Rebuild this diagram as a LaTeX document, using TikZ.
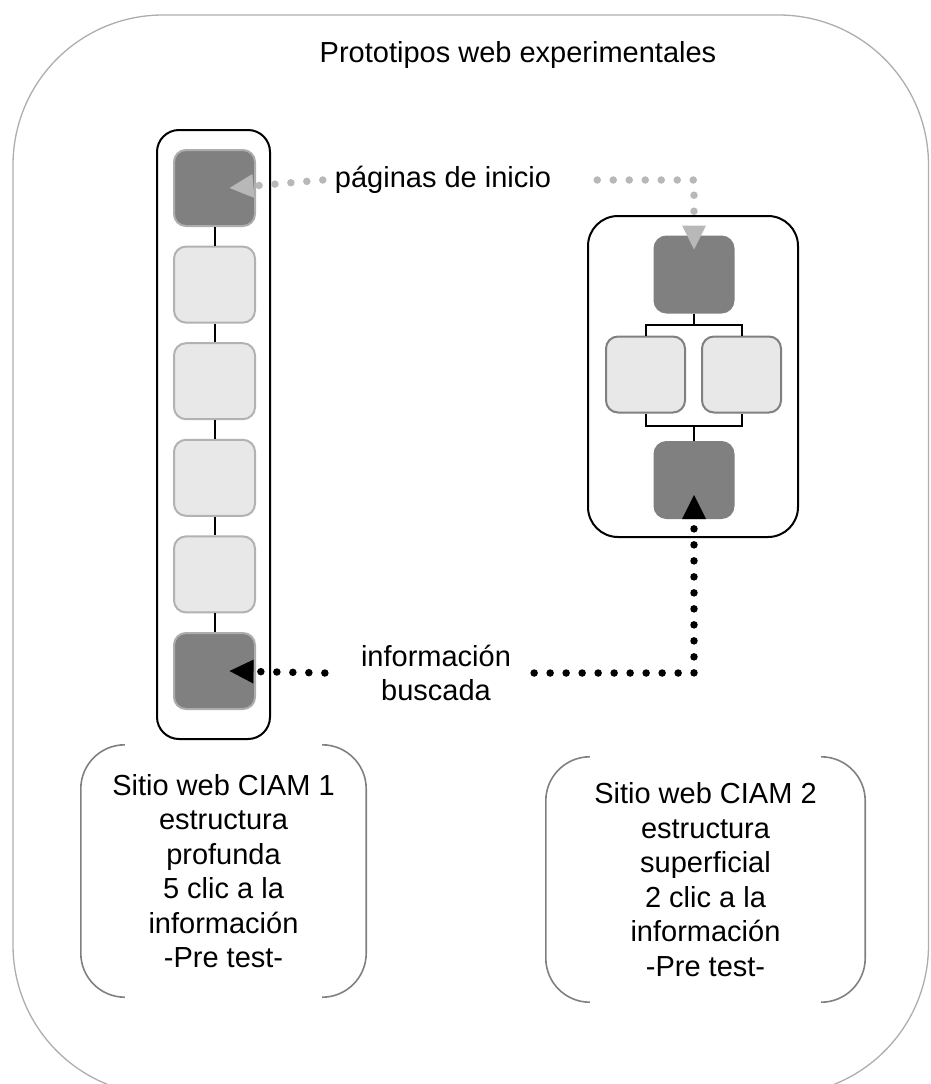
\documentclass[tikz,border=0pt]{standalone}
\usepackage{fontspec}
\setmainfont{Liberation Sans}
\usetikzlibrary{arrows.meta,positioning}

\begin{document}
\begin{tikzpicture}[x=1pt, y=-1pt,
  txt/.style={font=\fontsize{29}{34.5}\selectfont, align=center, inner sep=0pt},
  frame/.style={draw=black!32, line width=1.3pt, rounded corners=150pt},
  col/.style={draw=black, line width=2pt, rounded corners=#1},
  pg/.style={rectangle, rounded corners=12pt, line width=2pt, minimum width=81pt, minimum height=76pt},
  dark/.style={pg, fill=black!50, draw=black!32},
  darkr/.style={pg, fill=black!50, draw=black!50, minimum width=79pt},
  light/.style={pg, fill=black!9, draw=black!30},
  lightr/.style={pg, fill=black!9, draw=black!50, minimum width=79pt},
  link/.style={draw=black, line width=2pt},
  brk/.style={draw=black!50, line width=1.6pt, rounded corners=44pt},
  gdots/.style={draw=black!28, line width=7.5pt, line cap=round, dash pattern=on 0pt off 16pt,
    -{Triangle[length=24pt, width=24pt, line width=0pt]}},
  kdots/.style={gdots, draw=black}]
  \useasboundingbox (0,0) rectangle (930,1084);
  % outer frame, runs past the lower edge
  \begin{scope}
    \clip (0,0) rectangle (930,1084);
    \draw[frame] (13,15) rectangle (928.5,1095);
  \end{scope}
  \node[txt] (title) at (518,55) {Prototipos web experimentales};
  % deep site: six pages in a row
  \draw[col=22pt] (157,130) rectangle (270,739);
  \foreach \s [count=\k] in {dark,light,light,light,light,dark}{\node[\s] (p\k) at (214.5,91.4+\k*96.6) {};}
  \foreach \a/\b in {1/2,2/3,3/4,4/5,5/6}{\draw[link] (p\a.south) -- (p\b.north);}
  % shallow site: home, two branches, target
  \draw[col=30pt] (588,216) rectangle (798,537);
  \node[darkr] (q1) at (694,274.5) {};
  \node[lightr] (q2) at (645.5,374.5) {};
  \node[lightr] (q3) at (741.5,374.5) {};
  \node[darkr] (q4) at (694,480) {};
  \coordinate (b1) at (694,324.5);
  \coordinate (b2) at (694,426);
  \draw[link] (q1.south) -- (b1);
  \draw[link] (q2.north) |- (b1) -| (q3.north);
  \draw[link] (q2.south) |- (b2) -| (q3.south);
  \draw[link] (b2) -- (q4.north);
  % labels with dotted pointers
  \node[txt] (inicio) at (443,180) {páginas de inicio};
  \node[txt] (info) at (436,673) {información\\buscada};
  \draw[gdots] ([xshift=-12pt]inicio.west) -- ([xshift=15pt]p1.center);
  \draw[gdots] ([xshift=46pt]inicio.east) -| ([yshift=-14pt]q1.north);
  \draw[kdots] ([xshift=-36pt]info.west) -- ([xshift=15pt]p6.center);
  \draw[kdots] ([xshift=23pt]info.east) -| ([yshift=-15pt]q4.center);
  % site descriptions in open brackets
  \node[txt, minimum width=285pt, minimum height=252pt] (ciam1) at (223.5,871) {Sitio web CIAM 1\\estructura\\profunda\\5 clic a la\\información\\-Pre test-};
  \node[txt, minimum width=319pt, minimum height=245pt] (ciam2) at (705.5,879.5) {Sitio web CIAM 2\\estructura\\superficial\\2 clic a la\\información\\-Pre test-};
  \foreach \n in {ciam1,ciam2}{
    \draw[brk] ([xshift=44pt]\n.north west) -- (\n.north west) -- (\n.south west) -- ([xshift=44pt]\n.south west);
    \draw[brk] ([xshift=-44pt]\n.north east) -- (\n.north east) -- (\n.south east) -- ([xshift=-44pt]\n.south east);
  }
\end{tikzpicture}
\end{document}
